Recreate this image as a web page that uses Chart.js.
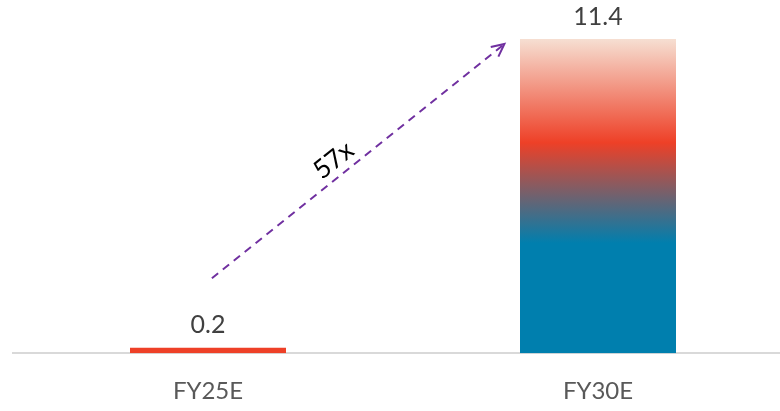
<!DOCTYPE html>
<html>
<head>
<meta charset="utf-8">
<script src="https://cdn.jsdelivr.net/npm/chart.js@4"></script>
<style>
  html, body { margin: 0; padding: 0; background: #fff; overflow: hidden; }
  #wrap { width: 793px; height: 411px; }
</style>
</head>
<body>
<div id="wrap"><canvas id="chartCanvas" width="793" height="411"></canvas></div>
<script>
const categories = ["FY25E", "FY30E"];
const values = [0.2, 11.4];
const valueLabels = ["0.2", "11.4"];

// growth arrow, in data units (category index, value)
const arrowFrom = [0.01, 2.72];
const arrowTo = [0.76, 11.22];
const arrowLabel = "57x";

const FONT = "Lato, 'Open Sans', sans-serif";

function barColor(context) {
    const chart = context.chart;
    const y = chart.scales.y;
    if (!y || context.dataIndex === 0) return "#ee4027";
    const g = chart.ctx.createLinearGradient(0, y.getPixelForValue(values[1]), 0, y.getPixelForValue(0));
    g.addColorStop(0, "#f6dfd2");
    g.addColorStop(0.33, "#ee4027");
    g.addColorStop(0.65, "#007fae");
    g.addColorStop(1, "#007fae");
    return g;
}

const extras = {
    id: "extras",
    afterDatasetsDraw(chart) {
        const ctx = chart.ctx;
        const xs = chart.scales.x, ys = chart.scales.y;

        // value labels
        ctx.save();
        ctx.font = "25px " + FONT;
        ctx.fillStyle = "#404040";
        ctx.textAlign = "center";
        ctx.textBaseline = "bottom";
        values.forEach((v, i) => {
            ctx.fillText(valueLabels[i], xs.getPixelForValue(i), ys.getPixelForValue(v) - 10);
        });
        ctx.restore();

        // dashed arrow
        const x1 = xs.getPixelForValue(arrowFrom[0]), y1 = ys.getPixelForValue(arrowFrom[1]);
        const x2 = xs.getPixelForValue(arrowTo[0]), y2 = ys.getPixelForValue(arrowTo[1]);
        const ang = Math.atan2(y2 - y1, x2 - x1);
        ctx.save();
        ctx.strokeStyle = "#7030a0";
        ctx.lineWidth = 2;
        ctx.setLineDash([8, 6]);
        ctx.beginPath();
        ctx.moveTo(x1, y1);
        ctx.lineTo(x2, y2);
        ctx.stroke();
        ctx.setLineDash([]);
        ctx.beginPath();
        const h = 14;
        ctx.moveTo(x2 + h * Math.cos(ang + Math.PI - 0.45), y2 + h * Math.sin(ang + Math.PI - 0.45));
        ctx.lineTo(x2, y2);
        ctx.lineTo(x2 + h * Math.cos(ang + Math.PI + 0.45), y2 + h * Math.sin(ang + Math.PI + 0.45));
        ctx.stroke();

        // arrow label
        const mx = x1 + (x2 - x1) * 0.45, my = y1 + (y2 - y1) * 0.45;
        ctx.translate(mx, my);
        ctx.rotate(ang);
        ctx.font = "26px " + FONT;
        ctx.fillStyle = "#000";
        ctx.textAlign = "center";
        ctx.textBaseline = "bottom";
        ctx.fillText(arrowLabel, 0, -3);
        ctx.restore();
    }
};

const ctx = document.getElementById("chartCanvas").getContext("2d");
new Chart(ctx, {
    type: "bar",
    data: {
        labels: categories,
        datasets: [{
            data: values,
            backgroundColor: barColor,
            barPercentage: 0.8,
            categoryPercentage: 0.5
        }]
    },
    options: {
        responsive: false,
        animation: false,
        layout: { padding: { left: 13, right: 0, top: 39, bottom: -19 } },
        plugins: { legend: { display: false }, tooltip: { enabled: false } },
        scales: {
            x: {
                grid: { display: false, drawTicks: false },
                border: { display: true, color: "#d9d9d9", width: 2 },
                ticks: { color: "#595959", font: { size: 24, family: FONT }, padding: 24 }
            },
            y: {
                display: false,
                min: 0,
                max: 11.4
            }
        }
    },
    plugins: [extras]
});
</script>
</body>
</html>
